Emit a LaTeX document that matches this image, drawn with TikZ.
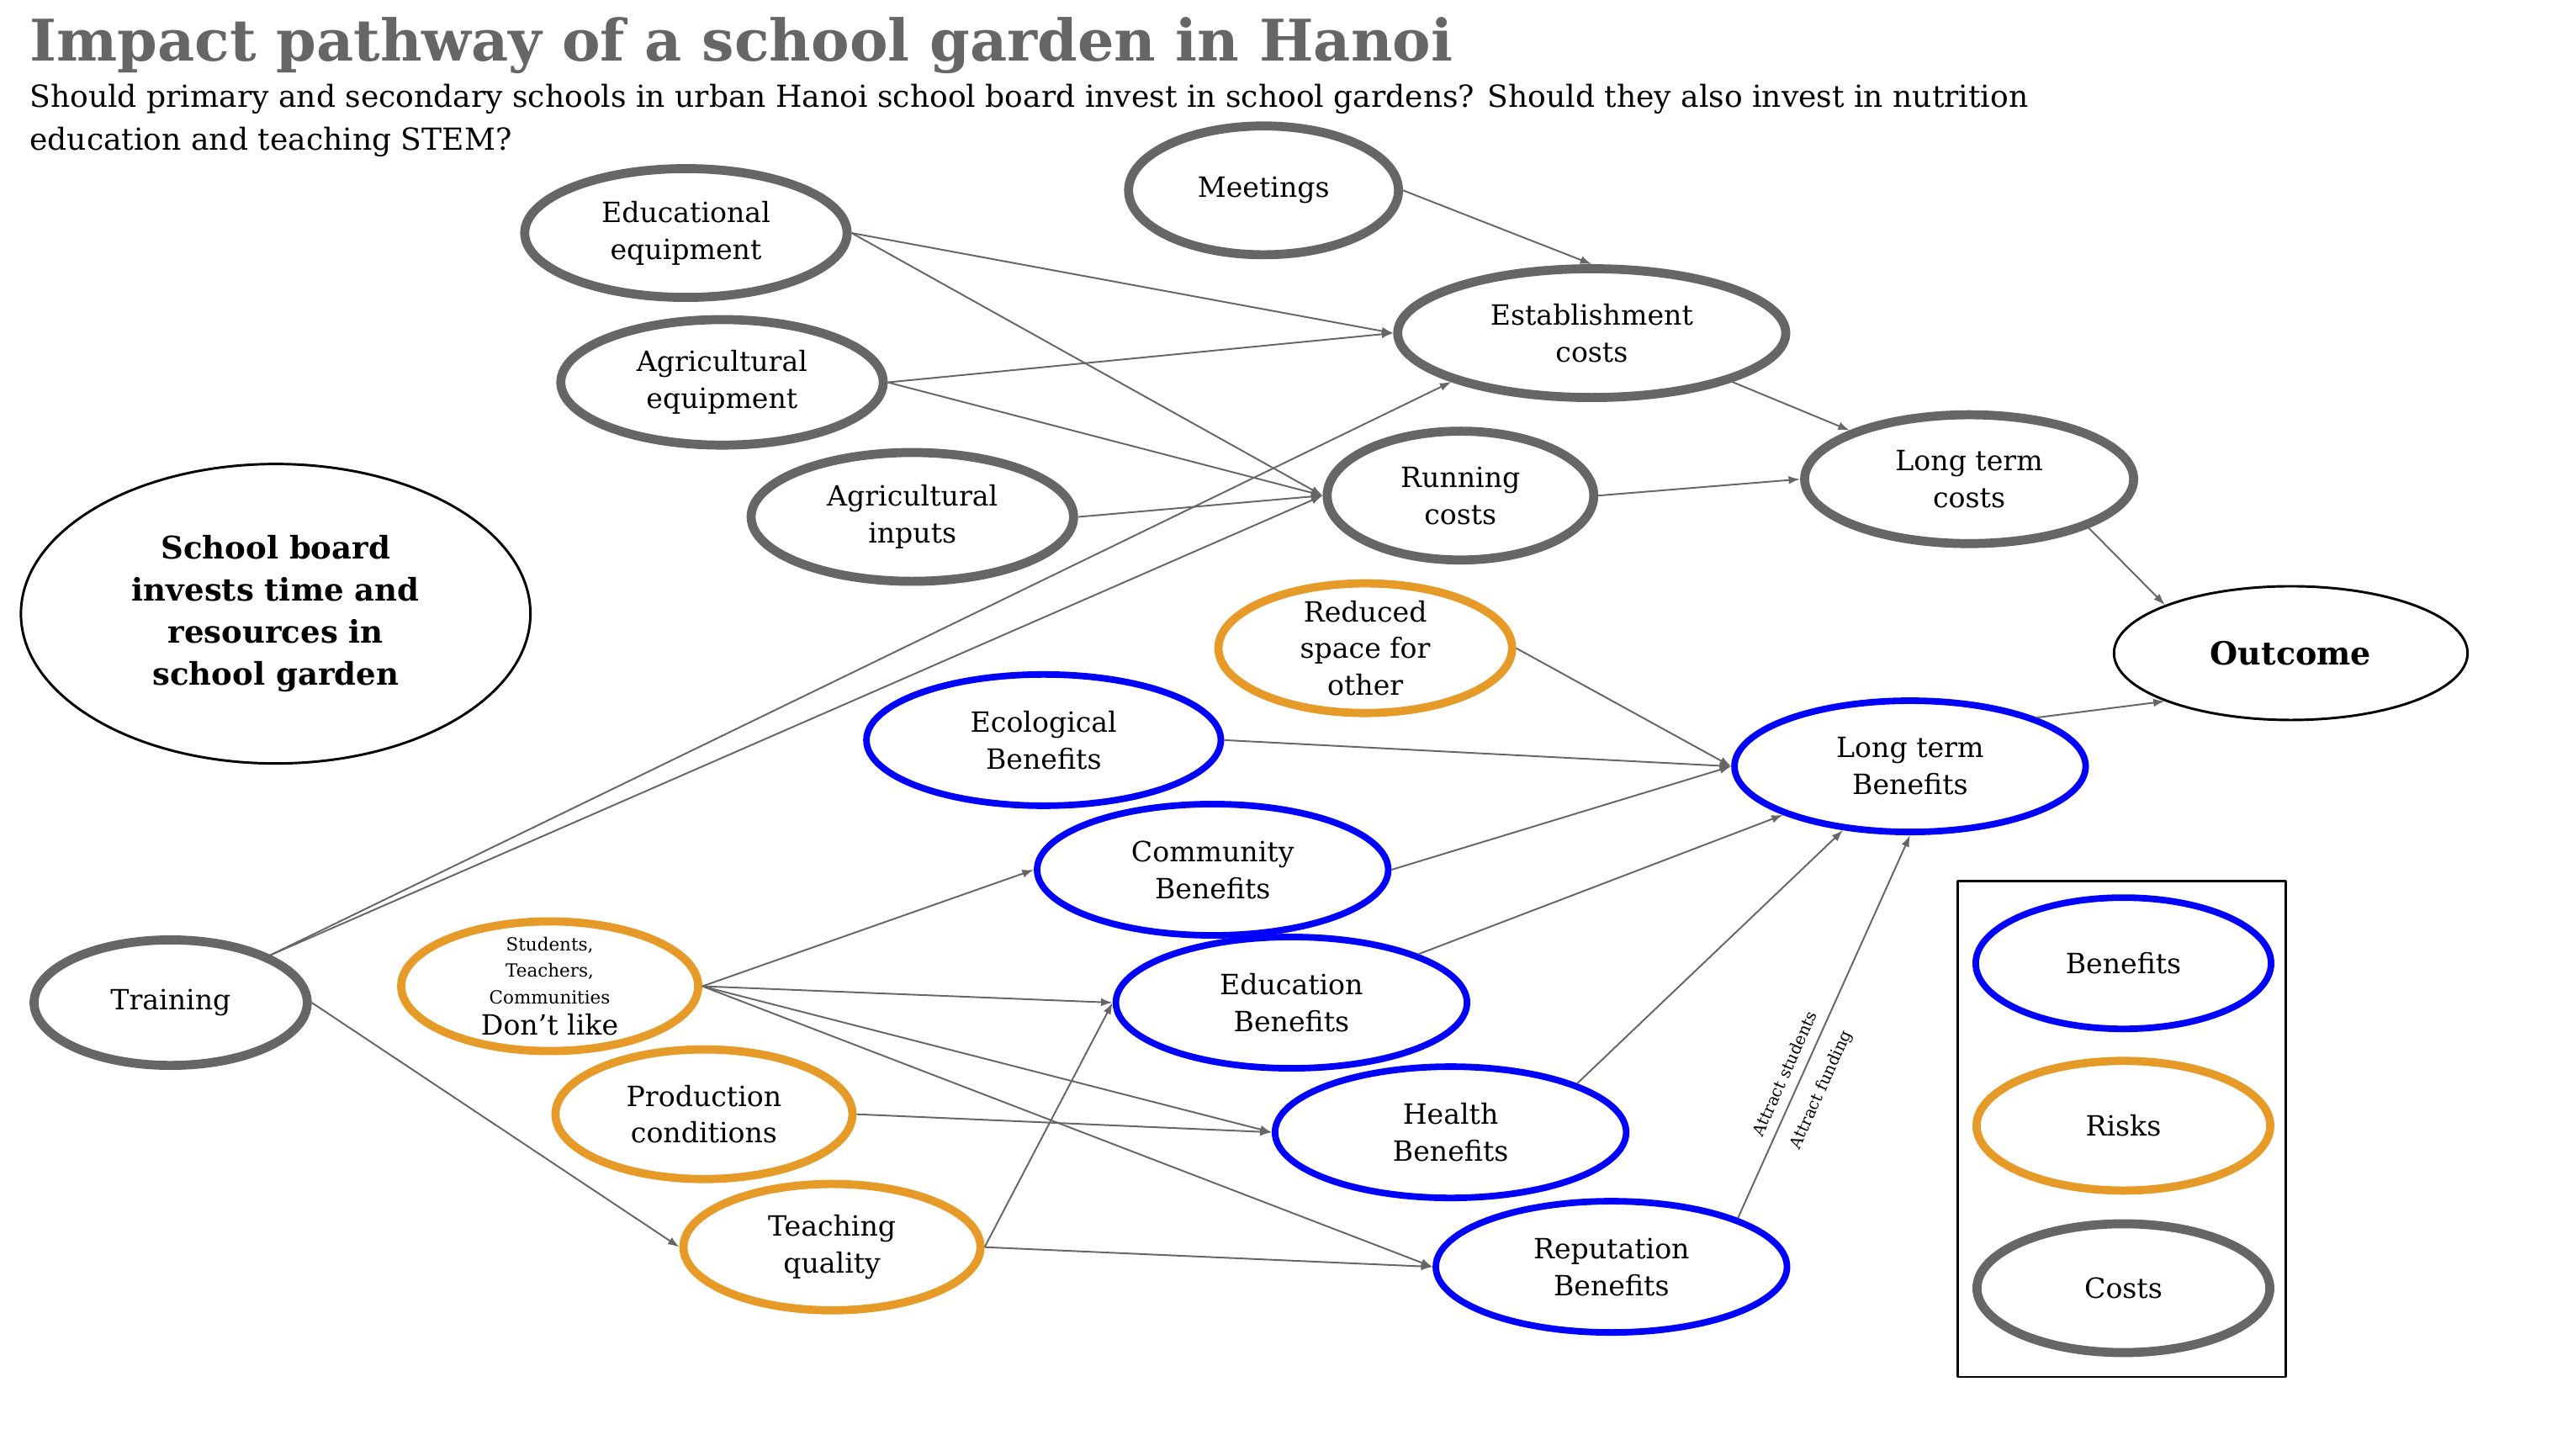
\documentclass[tikz,border=0pt]{standalone}
\usepackage{fontspec}
\setmainfont{DejaVu Serif}
\usetikzlibrary{shapes.geometric,arrows.meta}
\definecolor{costgray}{HTML}{666666}
\definecolor{riskorange}{HTML}{E69A28}
\definecolor{benefitblue}{HTML}{0000FF}
\begin{document}
\begin{tikzpicture}[x=1pt, y=-1pt, line join=round, >={Latex[length=7pt,width=5pt]},
		every node/.style={align=center, font=\fontsize{17}{22.5}\selectfont},
		bubble/.style={ellipse, fill=white, inner sep=0pt},
		cost/.style={bubble, draw=costgray, line width=5.5pt, minimum height=78.5pt},
		risk/.style={bubble, draw=riskorange, line width=5pt, minimum height=79pt},
		benefit/.style={bubble, draw=benefitblue, line width=4pt, minimum height=80pt},
		main/.style={bubble, draw=black, line width=1.5pt, font=\bfseries\fontsize{19}{25.5}\selectfont},
		link/.style={->, draw=costgray, line width=1pt},
		attract/.style={pos=0.36, sloped, font=\fontsize{10}{12}\selectfont}]
	\useasboundingbox (0,0) rectangle (1568,887);
	\node[anchor=base west, inner sep=0pt, text=costgray, font=\bfseries\fontsize{35}{40}\selectfont] (title) at (18,37) {Impact pathway of a school garden in Hanoi};
	\node[anchor=north west, inner sep=0pt, align=left, font=\fontsize{18.5}{26}\selectfont] (question) at (18,51) {Should primary and secondary schools in urban Hanoi school board invest in school gardens? Should they also invest in nutrition\\education and teaching STEM?};
	
	\node[cost, minimum width=196.5pt] (eduq) at (418,142) {Educational\\equipment};
	\node[cost, minimum width=164.5pt] (meet) at (770,116) {Meetings};
	\node[cost, minimum width=196.5pt, minimum height=76.5pt] (agreq) at (440,233) {Agricultural\\equipment};
	\node[cost, minimum width=236.5pt] (est) at (970,203) {Establishment\\costs};
	\node[cost, minimum width=196.5pt] (agin) at (556,315) {Agricultural\\inputs};
	\node[cost, minimum width=162.5pt] (run) at (890,302) {Running\\costs};
	\node[cost, minimum width=200.5pt] (ltc) at (1200,292) {Long term\\costs};
	\node[cost, minimum width=166.5pt, minimum height=76.5pt] (train) at (104,611) {Training};
	
	\node[main, minimum width=310.5pt, minimum height=182.5pt] (board) at (168,374) {School board\\invests time and\\resources in\\school garden};
	\node[main, minimum width=215.5pt, minimum height=81.5pt, font=\bfseries\fontsize{19.5}{24}\selectfont] (out) at (1396,398) {Outcome};
	
	\node[risk, minimum width=179pt, inner ysep=-6pt] (space) at (832,395) {Reduced\\space for\\other};
	\node[risk, minimum width=181pt, inner ysep=-8pt, font=\fontsize{11}{16}\selectfont] (dislike) at (335,601) {Students,\\Teachers,\\Communities\\[3pt]{\fontsize{17}{20}\selectfont Don’t like}};
	\node[risk, minimum width=181pt] (prod) at (429,679) {Production\\conditions};
	\node[risk, minimum width=181pt, minimum height=77pt] (teach) at (507,760) {Teaching\\quality};
	
	\node[benefit, minimum width=216pt] (eco) at (636,451) {Ecological\\Benefits};
	\node[benefit, minimum width=214pt] (ltb) at (1164,467) {Long term\\Benefits};
	\node[benefit, minimum width=214pt] (comm) at (739,530) {Community\\Benefits};
	\node[benefit, minimum width=214pt] (educ) at (787,611) {Education\\Benefits};
	\node[benefit, minimum width=214pt] (health) at (884,690) {Health\\Benefits};
	\node[benefit, minimum width=214pt] (rep) at (982,772) {Reputation\\Benefits};
	
	\draw[line width=1.2pt] (1193,537) rectangle (1393,839);
	\node[benefit, minimum width=180pt] (keyben) at (1294,587) {Benefits};
	\node[risk, minimum width=179pt] (keyrisk) at (1294,686) {Risks};
	\node[cost, minimum width=178.5pt] (keycost) at (1294,785) {Costs};
	
	\foreach \a/\b in {eduq.east/est.west, eduq.east/run.west, meet.east/est.north, agreq.east/est.west,
			agreq.east/run.west, agin.east/run.west, train.north east/est.south west, train.north east/run.west,
			est.south east/ltc.north west, run.east/ltc.west, ltc.south east/out.north west, ltb.north east/out.south west,
			space.east/ltb.west, eco.east/ltb.west, comm.east/ltb.west, educ/ltb, health.north east/ltb,
			dislike.east/comm.west, dislike.east/educ.west, dislike.east/health.west, dislike.east/rep.west,
			prod.east/health.west, train.east/teach.west, teach.east/educ.west, teach.east/rep.west}
		\draw[link] (\a) -- (\b);
	\draw[link] (rep.north east) -- node[attract, above, inner sep=6pt] (stud) {Attract students}
		node[attract, below, inner sep=9pt] (fund) {Attract funding} (ltb.south);
\end{tikzpicture}
\end{document}
